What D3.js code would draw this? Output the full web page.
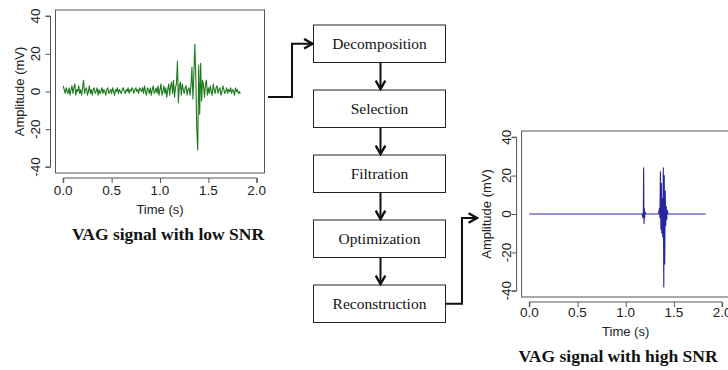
<!DOCTYPE html>
<html>
<head>
<meta charset="utf-8">
<script src="https://cdn.jsdelivr.net/npm/d3@7/dist/d3.min.js"></script>
<style>
  body { margin: 0; background: #fff; }
  svg { display: block; }
  .tick-label { font-family: "Liberation Sans", Arial, sans-serif; font-size: 13.5px; fill: #222; }
  .axis-title { font-family: "Liberation Sans", Arial, sans-serif; font-size: 13px; fill: #222; }
  .caption { font-family: "Liberation Serif", "Times New Roman", serif; font-size: 17.5px; font-weight: bold; fill: #111; }
  .step-text { font-family: "Liberation Serif", "Times New Roman", serif; font-size: 15.5px; fill: #111; }
</style>
</head>
<body>
<div class="svg-container"></div>
<script>
var width = 728;
var height = 370;

// ---- data ----
var xTicks = [0, 0.5, 1.0, 1.5, 2.0];
var yTicks = [-40, -20, 0, 20, 40];

var steps = ["Decomposition", "Selection", "Filtration", "Optimization", "Reconstruction"];

// low SNR signal, one sample every 0.01 s from 0.00 to 1.83
var lowStart = 0;
var lowStep = 0.01;
var lowValues = [
   3,  1, -1,  2,  0, -1,  2, -2,  1,  3,
  -1,  2,  4, -2,  1,  0,  3, -1,  1, -2,
   2,  6, -1,  1,  2, -2,  0,  3, -1,  1,
  -2,  1,  2, -1,  0,  2, -2,  1, -1,  0,
   2, -1,  1,  0, -2,  1,  2, -1,  0,  1,
  -1,  2,  0, -2,  1,  0,  2, -1,  1,  0,
  -1,  1,  2,  0, -1,  1,  0,  2, -1,  1,
   0,  2,  1, -1,  1,  2,  0,  1, -1,  2,
   1,  0,  2, -1,  3,  0, -2,  2,  1, -1,
   2, -2,  1,  3, -1,  0,  2, -1,  3, -2,
   1,  4, -2,  0,  3, -1,  2, -3,  1,  4,
  -2,  3,  5, -1,  6, -3,  2,  4, 16, -6,
   3,  5, -2,  4,  1, -1,  2,  3, -2,  1,
   2, -2,  3, 13, -4,  9, 25,  8,-20,-31,
  14,-12, 15, -5,  6,  3, -3,  4,  6, -2,
   2, -1,  3,  0, -2,  4,  1, -1,  2,  3,
  -1,  1,  2, -2,  0,  3,  1, -1,  0,  2,
  -1,  1,  0,  2, -1,  1,  0, -2,  2,  0,
   1, -1,  0, -1
];

// high SNR (reconstructed) signal: times and amplitudes
var highTimes = [0, 1.17, 1.18, 1.183, 1.186, 1.19, 1.193, 1.196, 1.20, 1.21,
                 1.34, 1.35, 1.355, 1.36, 1.365, 1.37, 1.375, 1.38, 1.385, 1.39,
                 1.395, 1.40, 1.405, 1.41, 1.415, 1.42, 1.425, 1.43, 1.44, 1.83];
var highValues = [0, 0, -2, 2, 24, -5, 3, -2, 1, 0,
                  0, 3, -2, 22, -8, 16, -10, 8, -12, 24,
                  -38, 20, -26, 12, -6, 4, -3, 2, 0, 0];

var lowData = lowValues.map(function(v, i) { return { t: lowStart + i * lowStep, v: v }; });
var highData = highTimes.map(function(t, i) { return { t: t, v: highValues[i] }; });

var svg = d3.select(".svg-container")
            .append("svg")
            .attr("width", width)
            .attr("height", height);

// R-style padded domains (4% extension)
var xDomain = [-0.08, 2.08];
var yDomain = [-43.2, 43.2];

// plot panels
var panels = [
  { data: lowData, color: "#1e7a1e", box: { x0: 55.5, x1: 264.5, y0: 10, y1: 173 },
    yLabelX: 19, tickLabelX: 35, tickLabelY: 195, titleY: 214,
    caption: "VAG signal with low SNR", captionX: 168, captionY: 240 },
  { data: highData, color: "#2626a0", box: { x0: 521.6, x1: 729.8, y0: 131, y1: 297 },
    yLabelX: 486, tickLabelX: 506, tickLabelY: 317, titleY: 336,
    caption: "VAG signal with high SNR", captionX: 618, captionY: 362 }
];

panels.forEach(drawPanel);

function drawPanel(p) {
  var b = p.box;
  var x = d3.scaleLinear().domain(xDomain).range([b.x0, b.x1]);
  var y = d3.scaleLinear().domain(yDomain).range([b.y1, b.y0]);
  var g = svg.append("g");

  // signal
  var line = d3.line()
               .x(function(d) { return x(d.t); })
               .y(function(d) { return y(d.v); });

  g.append("path")
   .datum(p.data)
   .attr("fill", "none")
   .attr("stroke", p.color)
   .attr("stroke-width", 1.1)
   .attr("stroke-linejoin", "round")
   .attr("d", line);

  // box
  g.append("rect")
   .attr("x", b.x0).attr("y", b.y0)
   .attr("width", b.x1 - b.x0).attr("height", b.y1 - b.y0)
   .attr("fill", "none")
   .attr("stroke", "#555")
   .attr("stroke-width", 1);

  // x axis, offset below the box
  var xAxisG = g.append("g")
    .attr("transform", "translate(0," + (b.y1 + 5) + ")")
    .call(d3.axisBottom(x).tickValues(xTicks).tickSize(5).tickFormat(d3.format(".1f")));
  xAxisG.select(".domain").attr("stroke", "#555").attr("d", "M" + x(xTicks[0]) + ",5V0H" + x(xTicks[xTicks.length - 1]) + "V5");
  xAxisG.selectAll(".tick line").attr("stroke", "#555");
  xAxisG.selectAll(".tick text").remove();

  g.selectAll(".xlab")
   .data(xTicks)
   .enter().append("text")
   .attr("class", "tick-label")
   .attr("x", function(d) { return x(d); })
   .attr("y", p.tickLabelY)
   .attr("text-anchor", "middle")
   .text(d3.format(".1f"));

  // y axis, offset left of the box
  var yAxisG = g.append("g")
    .attr("transform", "translate(" + (b.x0 - 5) + ",0)")
    .call(d3.axisLeft(y).tickValues(yTicks).tickSize(5));
  yAxisG.select(".domain").attr("stroke", "#555").attr("d", "M-5," + y(yTicks[0]) + "H0V" + y(yTicks[yTicks.length - 1]) + "H-5");
  yAxisG.selectAll(".tick line").attr("stroke", "#555");
  yAxisG.selectAll(".tick text").remove();

  g.selectAll(".ylab")
   .data(yTicks)
   .enter().append("text")
   .attr("class", "tick-label")
   .attr("transform", function(d) { return "translate(" + p.tickLabelX + "," + y(d) + ") rotate(-90)"; })
   .attr("text-anchor", "middle")
   .attr("dominant-baseline", "central")
   .text(function(d) { return d; });

  // axis titles
  g.append("text")
   .attr("class", "axis-title")
   .attr("x", (x(xTicks[0]) + x(xTicks[xTicks.length - 1])) / 2)
   .attr("y", p.titleY)
   .attr("text-anchor", "middle")
   .text("Time (s)");

  g.append("text")
   .attr("class", "axis-title")
   .attr("transform", "translate(" + p.yLabelX + "," + ((b.y0 + b.y1) / 2) + ") rotate(-90)")
   .attr("text-anchor", "middle")
   .attr("dominant-baseline", "central")
   .text("Amplitude (mV)");

  // caption
  g.append("text")
   .attr("class", "caption")
   .attr("x", p.captionX)
   .attr("y", p.captionY)
   .attr("text-anchor", "middle")
   .text(p.caption);
}

// ---- flowchart ----
var boxW = 132, boxH = 37.5, boxCx = 379.5;
var boxY = d3.scalePoint().domain(steps).range([25, 285]);

svg.append("defs").append("marker")
   .attr("id", "arrow")
   .attr("viewBox", "0 0 10 10")
   .attr("refX", 8.5).attr("refY", 5)
   .attr("markerWidth", 6).attr("markerHeight", 6)
   .attr("markerUnits", "strokeWidth")
   .attr("orient", "auto")
   .append("path")
   .attr("d", "M1.5,1 L8.5,5 L1.5,9")
   .attr("fill", "none")
   .attr("stroke", "#111")
   .attr("stroke-width", 2);

var flow = svg.append("g");

flow.selectAll("rect.step")
    .data(steps)
    .enter().append("rect")
    .attr("class", "step")
    .attr("x", boxCx - boxW / 2)
    .attr("y", function(d) { return boxY(d); })
    .attr("width", boxW)
    .attr("height", boxH)
    .attr("fill", "#fff")
    .attr("stroke", "#222")
    .attr("stroke-width", 1);

flow.selectAll("text.step-text")
    .data(steps)
    .enter().append("text")
    .attr("class", "step-text")
    .attr("x", boxCx)
    .attr("y", function(d) { return boxY(d) + boxH / 2; })
    .attr("text-anchor", "middle")
    .attr("dominant-baseline", "central")
    .text(function(d) { return d; });

// arrows between steps
flow.selectAll("line.down")
    .data(steps.slice(0, -1))
    .enter().append("line")
    .attr("class", "down")
    .attr("x1", boxCx + 1).attr("x2", boxCx + 1)
    .attr("y1", function(d) { return boxY(d) + boxH; })
    .attr("y2", function(d, i) { return boxY(steps[i + 1]) - 1; })
    .attr("stroke", "#111")
    .attr("stroke-width", 2)
    .attr("marker-end", "url(#arrow)");

// connector from low SNR plot to first step
var firstMid = boxY(steps[0]) + boxH / 2;
flow.append("path")
    .attr("d", "M268,97 H292 V" + firstMid + " H" + (boxCx - boxW / 2 - 1))
    .attr("fill", "none")
    .attr("stroke", "#111")
    .attr("stroke-width", 2)
    .attr("marker-end", "url(#arrow)");

// connector from last step to high SNR plot
var lastMid = boxY(steps[steps.length - 1]) + boxH / 2;
flow.append("path")
    .attr("d", "M" + (boxCx + boxW / 2) + "," + lastMid + " H462 V218 H477")
    .attr("fill", "none")
    .attr("stroke", "#111")
    .attr("stroke-width", 2)
    .attr("marker-end", "url(#arrow)");
</script>
</body>
</html>
